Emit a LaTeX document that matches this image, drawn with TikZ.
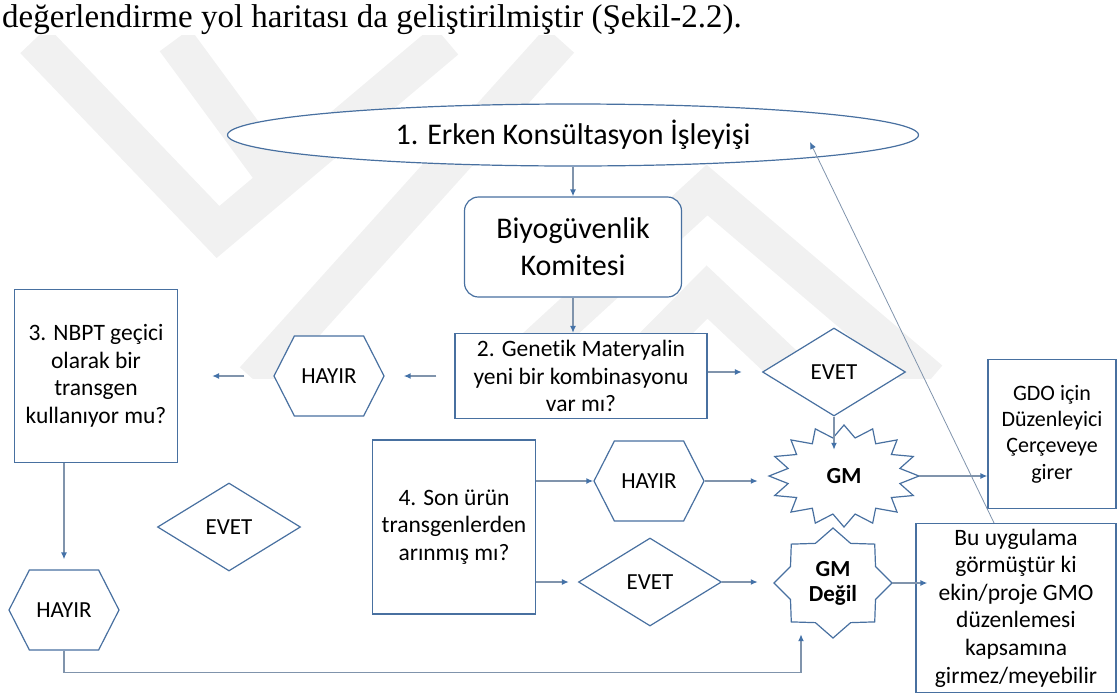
\documentclass[tikz,border=0pt]{standalone}
\usepackage{fontspec}
\setmainfont{Carlito}[Ligatures=CommonOff]
\newfontfamily\introfont{Liberation Serif}
\usetikzlibrary{arrows.meta, positioning, shapes.geometric, shapes.symbols, calc}

\definecolor{shapeblue}{RGB}{72,112,160}
\definecolor{linegray}{RGB}{128,148,172}
\definecolor{tipblue}{RGB}{68,114,168}
\definecolor{markgray}{RGB}{241,241,241}

\tikzset{
  box/.style={draw=shapeblue, line width=1.2pt, fill=white, align=center, inner sep=0pt},
  roundbox/.style={box, rounded corners=14pt},
  decision/.style={box, diamond, minimum width=143pt, minimum height=88pt, font=\fontsize{23}{27}\selectfont},
  hexa/.style={box, signal, signal to=east and west, signal pointer angle=126,
    minimum width=110pt, minimum height=80pt, font=\fontsize{23}{27}\selectfont},
  spiky/.style={draw=shapeblue, line width=1.2pt, fill=white, line join=miter},
  conn/.style={draw=linegray, line width=1.4pt, -{Latex[length=7pt, width=6pt, color=tipblue]}},
  txt/.style={font=\fontsize{23.5}{27.6}\selectfont},
  markband/.style={draw=markgray, line width=38pt, line join=miter},
}

% star outline round a coordinate: name, points, rx, ry, inner ratio
\newcommand{\spikystar}[5]{%
  \draw[spiky] ($(#1)+(90:#3 and #4)$)
    \foreach \k in {1,...,#2}{
      -- ($(#1)+({90+(\k-0.5)*360/#2}:{#5*#3} and {#5*#4})$)
      -- ($(#1)+({90+\k*360/#2}:#3 and #4)$)
    } -- cycle;}

\begin{document}
\begin{tikzpicture}[x=1pt, y=-1pt]
\useasboundingbox (0,0) rectangle (1119,694);

% faint watermark
\begin{scope}
  \clip (0,35) rectangle (1119,378);
  \draw[markband] (34,40) -- (218,232) -- (446,40);
  \draw[markband] (175,40) -- (275,176);
  \draw[markband] (254,380) -- (560,40);
  \draw[markband] (500,380) -- (707,190) -- (930,380);
  \draw[markband] (620,380) -- (707,292) -- (800,380);
\end{scope}

\node[anchor=base west, inner sep=0pt, font=\introfont\fontsize{33}{40}\selectfont] (intro) at (2,27)
  {değerlendirme yol haritası da geliştirilmiştir (Şekil-2.2).};

% top of the flow
\node[box, ellipse, minimum width=691pt, minimum height=62pt, font=\fontsize{30}{36}\selectfont] (consult) at (573,135)
  {1. Erken Konsültasyon İşleyişi};
\node[roundbox, minimum width=217pt, minimum height=100pt, font=\fontsize{30}{37}\selectfont] (biyo) at (573,247)
  {Biyogüvenlik\\Komitesi};
\node[box, txt, minimum width=252pt, minimum height=85pt] (box2) at (581,376)
  {2. Genetik Materyalin\\yeni bir kombinasyonu\\var mı?};
\node[decision] (evet1) at (834,372) {EVET};
\node[hexa] (hayir1) at (329,376) {HAYIR};
\node[box, txt, minimum width=163pt, minimum height=173pt] (box3) at (96,376)
  {3. NBPT geçici\\olarak bir\\transgen\\kullanıyor mu?};
\node[hexa] (hayir3) at (64,610) {HAYIR};
\node[decision] (evet3) at (229,527) {EVET};
\node[box, txt, minimum width=163pt, minimum height=174pt] (box4) at (454,527)
  {4. Son ürün\\transgenlerden\\arınmış mı?};
\node[hexa] (hayir2) at (649,481) {HAYIR};
\node[decision] (evet2) at (650,582) {EVET};

% outcomes
\coordinate (gmc) at (844,476);
\coordinate (gmnoc) at (833,583);
\spikystar{gmc}{16}{75}{51}{0.76}
\spikystar{gmnoc}{8}{59}{55}{0.78}
\node[ellipse, inner sep=0pt, minimum width=150pt, minimum height=102pt, font=\bfseries\fontsize{23}{27}\selectfont] (gm) at (gmc) {GM};
\node[ellipse, inner sep=0pt, minimum width=118pt, minimum height=110pt, align=center, font=\bfseries\fontsize{23}{25}\selectfont] (gmno) at (gmnoc) {GM\\Değil};
\node[box, font=\fontsize{22}{26.3}\selectfont, minimum width=128pt, minimum height=149pt] (gdo) at (1052,434)
  {GDO için\\Düzenleyici\\Çerçeveye\\girer};
\node[box, txt, minimum width=200pt, minimum height=169pt] (bu) at (1016,608)
  {Bu uygulama\\görmüştür ki\\ekin/proje GMO\\düzenlemesi\\kapsamına\\girmez/meyebilir};

% connectors
\draw[conn] (consult) -- (biyo);
\draw[conn] (biyo.south) -- (biyo.south |- box2.north);
\draw[conn, shorten <=18pt, shorten >=19pt] (box2.west |- hayir1) -- (hayir1.east);
\draw[conn, shorten <=29pt, shorten >=34pt] (hayir1.west) -- (hayir1.west -| box3.east);
\draw[conn, shorten >=20pt] (box2.east |- evet1) -- (evet1.west);
\draw[conn, shorten >=-25pt] (evet1.south) -- (evet1.south |- gm.north);
\draw[conn] (box4.east |- hayir2) -- (hayir2.west);
\draw[conn, shorten >=11pt] (hayir2.east) -- (hayir2.east -| gm.west);
\draw[conn] (gm.east) -- (gm.east -| gdo.west);
\draw[conn, shorten >=9pt] (box4.east |- evet2) -- (evet2.west);
\draw[conn, shorten >=16pt] (evet2.east) -- (evet2.east -| gmno.west);
\draw[conn, shorten >=-12pt] (gmno.east) -- (gmno.east -| bu.west);
\draw[conn, shorten >=10pt] (hayir3.north |- box3.south) -- (hayir3.north);
\draw[conn, shorten >=-4pt] (hayir3.south) -- ++(0,22) -| ([xshift=-32pt]gmno.south);
\coordinate (backtip) at (810,142);
\draw[conn, line width=0.8pt] ([xshift=-22pt]bu.north) -- (backtip);
\end{tikzpicture}
\end{document}
